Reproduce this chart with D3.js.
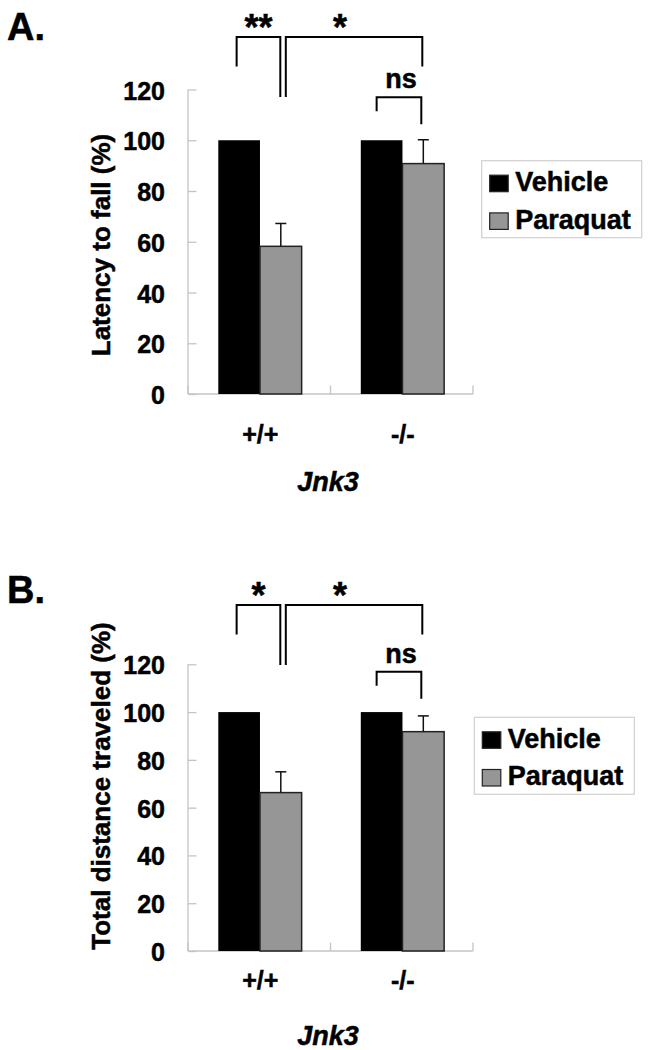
<!DOCTYPE html>
<html><head><meta charset="utf-8">
<script src="https://cdn.jsdelivr.net/npm/d3@7"></script>
<style>body{margin:0;background:#fff}svg{display:block}text{stroke:#000;stroke-width:0.5px;paint-order:stroke}</style>
</head><body>
<svg id="c" width="649" height="1050"></svg>
<script>
// ---- data ----
const genotypes = ["+/+", "-/-"];
const treatments = ["Vehicle", "Paraquat"];
const yTicks = [0, 20, 40, 60, 80, 100, 120];
const latencyVehicle = [100, 100];
const latencyParaquat = [58.2, 90.8];
const latencyParaquatErr = [9.0, 9.4];
const distanceVehicle = [100, 100];
const distanceParaquat = [66.3, 91.8];
const distanceParaquatErr = [8.7, 6.6];
const latencySig = ["**", "*", "ns"];
const distanceSig = ["*", "*", "ns"];
const xTitle = "Jnk3";

const FONT = "'Liberation Sans', Arial, Helvetica, sans-serif";
const svg = d3.select("#c");
svg.append("rect").attr("width", 649).attr("height", 1050).attr("fill", "#fff");

const panels = [
  {letter: "A.", letterY: 40, yTitle: "Latency to fall (%)", yTitleCY: 245,
   top: 89.5, bottom: 394, veh: latencyVehicle, par: latencyParaquat, err: latencyParaquatErr,
   sig: latencySig, sigTop: 37, nsTop: 97.3, legX: 481.7, legY: 160.7, xLabY: 443, titleY: 491},
  {letter: "B.", letterY: 603, yTitle: "Total distance traveled (%)", yTitleCY: 786,
   top: 664.3, bottom: 951, veh: distanceVehicle, par: distanceParaquat, err: distanceParaquatErr,
   sig: distanceSig, sigTop: 605, nsTop: 671.7, legX: 474.3, legY: 717.3, xLabY: 989, titleY: 1045}
];

const colors = {Vehicle: "#000000", Paraquat: "#969696"};
const axisColor = "#c4c4c4";

panels.forEach(p => {
  const g = svg.append("g");
  const x0 = d3.scaleBand().domain(genotypes).range([188, 473]).padding(0);
  const bw = x0.bandwidth();
  const x1 = d3.scaleBand().domain(treatments).range([bw * 0.2126, bw * 0.7975]).padding(0);
  const y = d3.scaleLinear().domain([0, 120]).range([p.bottom, p.top]);

  // panel letter
  g.append("text").attr("x", 7).attr("y", p.letterY).text(p.letter)
    .attr("font-family", FONT).attr("font-weight", "bold").attr("font-size", 38);

  // y axis
  const yAxis = d3.axisRight(y).tickValues(yTicks).tickSize(8.5).tickFormat("");
  const ya = g.append("g").attr("transform", "translate(188,0)").call(yAxis);
  ya.select(".domain").attr("stroke", axisColor).attr("stroke-width", 1.3).attr("d", `M0,${p.bottom}V${p.top}`);
  ya.selectAll(".tick line").attr("stroke", axisColor).attr("stroke-width", 1.3);
  g.selectAll(".ytl").data(yTicks).join("text")
    .attr("x", 165).attr("y", d => y(d) + 10).attr("text-anchor", "end")
    .attr("font-family", FONT).attr("font-weight", "bold").attr("font-size", 25).text(d => d);

  // x axis
  g.append("line").attr("x1", 188).attr("x2", 473).attr("y1", p.bottom).attr("y2", p.bottom)
    .attr("stroke", axisColor).attr("stroke-width", 1.3);
  const bounds = genotypes.map(d => x0(d) + bw).concat([x0(genotypes[0])]);
  g.selectAll(".xt").data(bounds).join("line")
    .attr("x1", d => d).attr("x2", d => d).attr("y1", p.bottom).attr("y2", p.bottom - 8.5)
    .attr("stroke", axisColor).attr("stroke-width", 1.3);
  g.selectAll(".xtl").data(genotypes).join("text")
    .attr("x", d => x0(d) + bw / 2 + 1).attr("y", p.xLabY).attr("text-anchor", "middle")
    .attr("font-family", FONT).attr("font-weight", "bold").attr("font-size", 25).text(d => d);
  g.append("text").attr("x", 328).attr("y", p.titleY).attr("text-anchor", "middle")
    .attr("font-family", FONT).attr("font-weight", "bold").attr("font-style", "italic")
    .attr("font-size", 27).text(xTitle);

  // y title
  g.append("text").attr("transform", `translate(110,${p.yTitleCY}) rotate(-90)`)
    .attr("text-anchor", "middle").attr("font-family", FONT).attr("font-weight", "bold")
    .attr("font-size", 26).text(p.yTitle);

  // bars
  const rows = [];
  genotypes.forEach((gt, i) => {
    rows.push({gt, tr: "Vehicle", v: p.veh[i], e: 0});
    rows.push({gt, tr: "Paraquat", v: p.par[i], e: p.err[i]});
  });
  const cx = r => x0(r.gt) + x1(r.tr) + x1.bandwidth() / 2;
  g.selectAll(".bar").data(rows).join("rect")
    .attr("x", r => x0(r.gt) + x1(r.tr)).attr("width", x1.bandwidth())
    .attr("y", r => y(r.v)).attr("height", r => y(0) - y(r.v))
    .attr("fill", r => colors[r.tr])
    .attr("stroke", r => r.tr === "Paraquat" ? "#222" : "none").attr("stroke-width", 1.5);
  const eb = rows.filter(r => r.e > 0);
  g.selectAll(".eb").data(eb).join("line")
    .attr("x1", cx).attr("x2", cx).attr("y1", r => y(r.v)).attr("y2", r => y(r.v + r.e))
    .attr("stroke", "#111").attr("stroke-width", 1.5);
  g.selectAll(".ec").data(eb).join("line")
    .attr("x1", r => cx(r) - 5.5).attr("x2", r => cx(r) + 5.5)
    .attr("y1", r => y(r.v + r.e)).attr("y2", r => y(r.v + r.e))
    .attr("stroke", "#111").attr("stroke-width", 1.5);

  // significance brackets
  const pos = (gt, tr) => x0(gt) + x1(tr) + x1.bandwidth() / 2;
  const T = p.sigTop, N = p.nsTop;
  const b1L = pos("+/+", "Vehicle") - 2.5, b1R = pos("+/+", "Paraquat") - 0.5;
  const b2L = pos("+/+", "Paraquat") + 5, b2R = pos("-/-", "Paraquat") - 1;
  const nsL = pos("-/-", "Vehicle") - 5, nsR = pos("-/-", "Paraquat") - 2;
  const brackets = [
    {d: `M${b1L},${T + 29.5}V${T}H${b1R}V${T + 60}`, lx: (b1L + b1R) / 2, ly: T + 3, label: p.sig[0], fs: 36},
    {d: `M${b2L},${T + 60}V${T}H${b2R}V${T + 29.5}`, lx: (b2L + b2R) / 2 - 14, ly: T + 3, label: p.sig[1], fs: 36},
    {d: `M${nsL},${N + 14}V${N}H${nsR}V${N + 27}`, lx: (nsL + nsR) / 2 + 2, ly: N - 9, label: p.sig[2], fs: 27}
  ];
  g.selectAll(".br").data(brackets).join("path").attr("d", d => d.d)
    .attr("fill", "none").attr("stroke", "#000").attr("stroke-width", 2);
  g.selectAll(".brl").data(brackets).join("text")
    .attr("x", d => d.lx).attr("y", d => d.ly).attr("text-anchor", "middle")
    .attr("font-family", FONT).attr("font-weight", "bold").attr("font-size", d => d.fs).text(d => d.label);

  // legend
  const lg = g.append("g").attr("transform", `translate(${p.legX},${p.legY})`);
  lg.append("rect").attr("x", 0).attr("y", 0).attr("width", 160).attr("height", 77)
    .attr("fill", "#fff").attr("stroke", "#d0d0d0").attr("stroke-width", 1.2);
  treatments.forEach((t, i) => {
    lg.append("rect").attr("x", 8).attr("y", 14.5 + i * 37.7).attr("width", 18.5).attr("height", 16.5)
      .attr("fill", colors[t]).attr("stroke", "#222").attr("stroke-width", 1.2);
    lg.append("text").attr("x", 33.5).attr("y", 30.5 + i * 37.7).text(t)
      .attr("font-family", FONT).attr("font-weight", "bold").attr("font-size", 27);
  });
});
</script>
</body></html>
